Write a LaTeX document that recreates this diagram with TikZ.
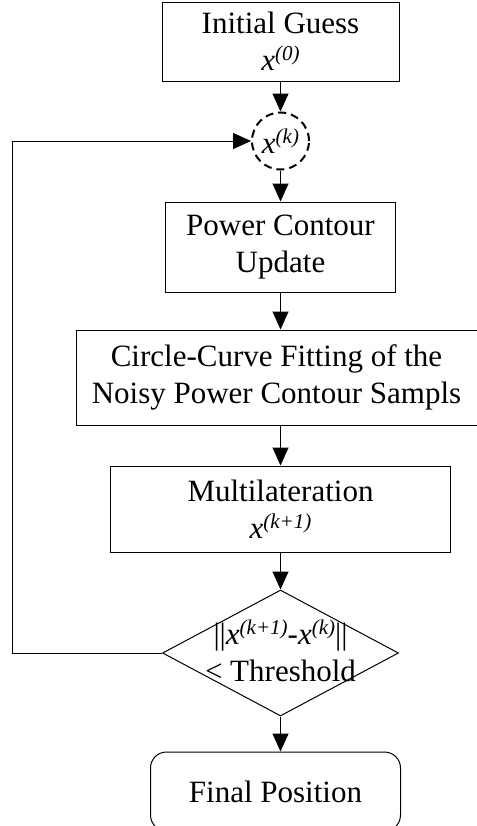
\documentclass[tikz,border=0pt]{standalone}
\usepackage{fontspec}
\setmainfont{Liberation Serif}
\usetikzlibrary{shapes.geometric, positioning, arrows.meta}

% italic x with an italic superscript index
\newcommand{\xit}[1]{\textit{x}\raisebox{5bp}{\fontsize{10.5bp}{10.5bp}\selectfont\itshape(#1)}}

\begin{document}
\begin{tikzpicture}[
        node distance=15bp,
        >={Triangle[length=9bp,width=8bp]},
        line width=0.5bp,
        every node/.style={font=\fontsize{15.5bp}{18.5bp}\selectfont, align=center, inner sep=0pt},
        process/.style={draw, rectangle},
        loopvar/.style={draw, circle, line width=1bp, dash pattern=on 4bp off 2.5bp, minimum size=28.5bp},
        decision/.style={draw, diamond, minimum width=118bp, minimum height=63bp},
        terminal/.style={draw, rectangle, rounded corners=8bp}
    ]

    \useasboundingbox (0,0) rectangle (238.5bp,-413bp);

    % --- Blocks ---
    \node[process, minimum width=118.5bp, minimum height=39.5bp] (init) at (140.25bp,-20.75bp) {Initial Guess\\\xit{0}};
    \node[loopvar, below=15bp of init] (xk) {\xit{k}};
    \node[process, minimum width=115bp, minimum height=45bp, below=15.5bp of xk] (pcu) {Power Contour\\Update};
    \node[process, minimum width=200.5bp, minimum height=47.5bp, below=18.5bp of pcu, xshift=-2bp] (fit) {Circle-Curve Fitting of the\\Noisy Power Contour Sampls};
    \coordinate (fitb) at (fit.south -| xk);
    \node[process, minimum width=170bp, minimum height=43bp, below=20bp of fitb] (mul) {Multilateration\\\xit{k+1}};

    % Decision: text is set on top so that it may run past the border
    \node[decision, below=18.5bp of mul] (dec) {};
    \node[yshift=1bp] (dectxt) at (dec) {||\xit{k+1}-\xit{k}||\\< Threshold};

    \node[terminal, minimum width=125bp, minimum height=39.5bp, below=17.5bp of dec, xshift=-2.5bp] (fin) {Final Position};

    % --- Connectors ---
    \coordinate (lp) at (6bp,0);
    \draw[->] (init) -- (xk);
    \draw[->] (xk) -- (pcu);
    \draw[->] (pcu.south) -- (pcu.south |- fit.north);
    \draw[->] (fitb) -- (mul);
    \draw[->] (mul) -- (dec);
    \draw[->] (dec.south) -- (dec.south |- fin.north);
    % feedback loop
    \draw[->] (dec.west) -- (dec.west -| lp) |- (xk.west);

\end{tikzpicture}
\end{document}
